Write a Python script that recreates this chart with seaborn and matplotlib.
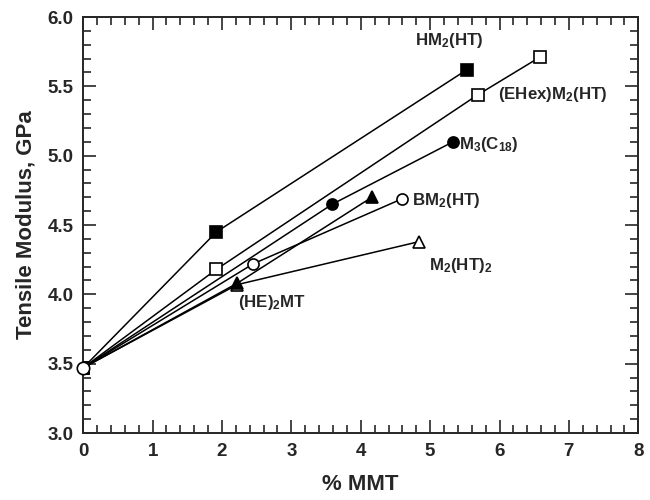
import matplotlib
matplotlib.use("Agg")
from matplotlib import pyplot as plt
from matplotlib.ticker import MultipleLocator
import seaborn as sns
import pandas as pd

# % MMT vs tensile modulus (GPa); every series starts at the unfilled polymer
origin_x = 0.0
origin_y = 3.47

series_names = ["HM$_2$(HT)", "(EHex)M$_2$(HT)", "M$_3$(C$_{18}$)",
                "BM$_2$(HT)", "(HE)$_2$MT", "M$_2$(HT)$_2$"]
hm2_x = [1.92, 5.53]
hm2_y = [4.45, 5.62]
ehex_x = [1.92, 5.69, 6.58]
ehex_y = [4.18, 5.44, 5.71]
m3_x = [3.59, 5.33]
m3_y = [4.65, 5.10]
bm2_x = [2.45, 4.60]
bm2_y = [4.22, 4.69]
he2_x = [2.22, 4.16]
he2_y = [4.08, 4.70]
m2ht2_x = [2.22, 4.84]
m2ht2_y = [4.07, 4.38]

label_x = [4.78, 5.98, 5.42, 4.74, 2.23, 4.99]
label_y = [5.83, 5.44, 5.08, 4.68, 3.94, 4.21]

markers = ["s", "s", "o", "o", "^", "^"]
filled = [True, False, True, False, True, False]

rows = []
for name, xs, ys in zip(series_names,
                        [hm2_x, ehex_x, m3_x, bm2_x, he2_x, m2ht2_x],
                        [hm2_y, ehex_y, m3_y, bm2_y, he2_y, m2ht2_y]):
    rows.append((name, origin_x, origin_y))
    for x, y in zip(xs, ys):
        rows.append((name, x, y))
df = pd.DataFrame(rows, columns=["Clay", "MMT", "Modulus"])

sns.set_style("ticks")
plt.rcParams["font.family"] = ["Liberation Sans", "DejaVu Sans"]
plt.rcParams["font.weight"] = "bold"
plt.rcParams["mathtext.fontset"] = "custom"
plt.rcParams["mathtext.rm"] = "Liberation Sans:bold"
plt.rcParams["mathtext.it"] = "Liberation Sans:bold"
plt.rcParams["mathtext.bf"] = "Liberation Sans:bold"
plt.rcParams["mathtext.default"] = "bf"

fig = plt.figure(figsize=(6.5, 5), dpi=100)
ax = fig.add_axes([0.128, 0.134, 0.854, 0.832])

# draw in reverse so the filled triangle sits on top of the open one
order = list(range(len(series_names)))[::-1]
for i in order:
    sub = df[df["Clay"] == series_names[i]]
    sns.lineplot(data=sub, x="MMT", y="Modulus", ax=ax, sort=False,
                 color="black", linewidth=1.1, marker=markers[i],
                 markersize=8 if markers[i] != "^" else 9,
                 markerfacecolor="black" if filled[i] else "white",
                 markeredgecolor="black", markeredgewidth=1.2,
                 zorder=3, legend=False)

# the shared starting point
sns.scatterplot(x=[origin_x], y=[origin_y], ax=ax, marker="o", s=80,
                facecolor="white", edgecolor="black", linewidth=1.2,
                zorder=5, clip_on=False, legend=False)

for name, lx, ly in zip(series_names, label_x, label_y):
    ax.text(lx, ly, name, fontsize=12.2, fontweight="bold", va="center", ha="left")

ax.set_xlim(0, 8)
ax.set_ylim(3.0, 6.0)
ax.xaxis.set_major_locator(MultipleLocator(1))
ax.xaxis.set_minor_locator(MultipleLocator(0.2))
ax.yaxis.set_major_locator(MultipleLocator(0.5))
ax.yaxis.set_minor_locator(MultipleLocator(0.1))
ax.set_yticks([3.0, 3.5, 4.0, 4.5, 5.0, 5.5, 6.0])
ax.set_yticklabels(["3.0", "3.5", "4.0", "4.5", "5.0", "5.5", "6.0"])
ax.tick_params(which="both", direction="in", top=True, right=True,
               width=1.2, labelsize=13.5, pad=7)
ax.tick_params(which="major", length=9.5)
ax.tick_params(which="minor", length=6)
for lab in ax.get_xticklabels() + ax.get_yticklabels():
    lab.set_fontweight("bold")
for sp in ax.spines.values():
    sp.set_linewidth(1.4)

ax.set_xlabel("% MMT", fontsize=16, fontweight="bold", labelpad=10)
ax.set_ylabel("Tensile Modulus, GPa", fontsize=16, fontweight="bold", labelpad=8)

fig.savefig("out.png", dpi=100)
